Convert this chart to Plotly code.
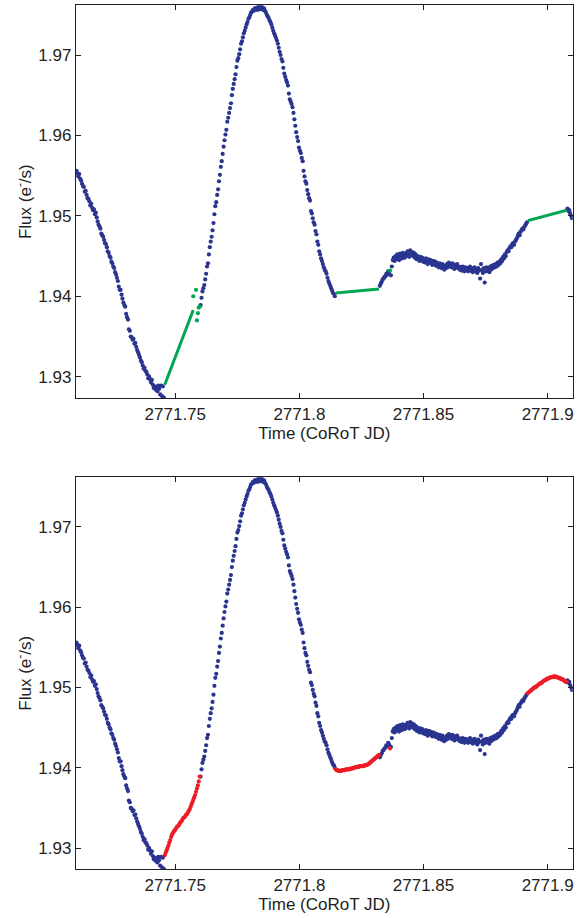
import plotly.graph_objects as go

# CoRoT light curve, 32 s cadence
T_START = 2771.7102
CADENCE = 32.0 / 86400.0

# good photometry: first cadence index and fluxes (e-/s, as plotted)
good_a_start = 0
good_a = [
    1.9556, 1.9553, 1.9549, 1.9552, 1.9546, 1.9544, 1.9540, 1.9537, 1.9536, 1.9530,
    1.9531, 1.9526, 1.9522, 1.9521, 1.9518, 1.9513, 1.9515, 1.9510, 1.9507, 1.9508,
    1.9502, 1.9504, 1.9498, 1.9493, 1.9489, 1.9487, 1.9484, 1.9478, 1.9476, 1.9474,
    1.9470, 1.9466, 1.9465, 1.9461, 1.9456, 1.9454, 1.9450, 1.9448, 1.9443, 1.9441,
    1.9437, 1.9435, 1.9430, 1.9427, 1.9423, 1.9419, 1.9412, 1.9408, 1.9408, 1.9402,
    1.9397, 1.9392, 1.9389, 1.9387, 1.9378, 1.9374, 1.9371, 1.9359, 1.9357, 1.9350,
    1.9349, 1.9346, 1.9347, 1.9341, 1.9342, 1.9337, 1.9333, 1.9330, 1.9327, 1.9324,
    1.9320, 1.9318, 1.9314, 1.9310, 1.9311, 1.9307, 1.9306, 1.9303, 1.9298, 1.9300,
    1.9297, 1.9293, 1.9296, 1.9290, 1.9286, 1.9288, 1.9284, 1.9287, 1.9282, 1.9289,
    1.9285, 1.9278, 1.9289, 1.9276, 1.9288, 1.9274,
]

good_b_start = 135
good_b = [
    1.9389, 1.9398, 1.9406, 1.9410, 1.9414, 1.9421, 1.9428, 1.9437, 1.9441, 1.9452,
    1.9461, 1.9468, 1.9474, 1.9482, 1.9491, 1.9502, 1.9512, 1.9517, 1.9526, 1.9533,
    1.9543, 1.9551, 1.9561, 1.9568, 1.9577, 1.9586, 1.9594, 1.9601, 1.9607, 1.9617,
    1.9622, 1.9628, 1.9634, 1.9640, 1.9650, 1.9658, 1.9664, 1.9670, 1.9676, 1.9685,
    1.9693, 1.9696, 1.9701, 1.9707, 1.9714, 1.9717, 1.9722, 1.9727, 1.9730, 1.9734,
    1.9738, 1.9741, 1.9745, 1.9747, 1.9750, 1.9753, 1.9754, 1.9756, 1.9755, 1.9758,
    1.9757, 1.9759, 1.9756, 1.9760, 1.9758, 1.9757, 1.9761, 1.9759, 1.9756, 1.9758,
    1.9755, 1.9753, 1.9750, 1.9748, 1.9746, 1.9743, 1.9741, 1.9738, 1.9734, 1.9730,
    1.9727, 1.9724, 1.9721, 1.9718, 1.9714, 1.9709, 1.9704, 1.9700, 1.9695, 1.9692,
    1.9684, 1.9677, 1.9673, 1.9669, 1.9666, 1.9662, 1.9652, 1.9645, 1.9642, 1.9639,
    1.9635, 1.9628, 1.9620, 1.9612, 1.9604, 1.9598, 1.9593, 1.9585, 1.9581, 1.9578,
    1.9572, 1.9568, 1.9556, 1.9549, 1.9543, 1.9540, 1.9532, 1.9527, 1.9522, 1.9519,
    1.9506, 1.9503, 1.9497, 1.9492, 1.9489, 1.9481, 1.9477, 1.9468, 1.9464, 1.9456,
    1.9452, 1.9447, 1.9444, 1.9440, 1.9436, 1.9433, 1.9431, 1.9428, 1.9423, 1.9419,
    1.9416, 1.9413, 1.9410, 1.9407, 1.9404, 1.9403, 1.9400,
]

good_c_start = 330
good_c = [
    1.9413, 1.9416, 1.9418, 1.9421, 1.9422, 1.9424, 1.9425, 1.9428, 1.9427, 1.9431,
    1.9429,
]

good_d_start = 342
good_d = [
    1.9426, 1.9437, 1.9445, 1.9448, 1.9444, 1.9450, 1.9446, 1.9452, 1.9449, 1.9445,
    1.9453, 1.9450, 1.9447, 1.9454, 1.9451, 1.9448, 1.9453, 1.9450, 1.9456, 1.9452,
    1.9449, 1.9457, 1.9453, 1.9455, 1.9450, 1.9454, 1.9448, 1.9452, 1.9446, 1.9450,
    1.9447, 1.9444, 1.9449, 1.9445, 1.9448, 1.9443, 1.9446, 1.9442, 1.9447, 1.9444,
    1.9440, 1.9446, 1.9442, 1.9445, 1.9441, 1.9439, 1.9444, 1.9440, 1.9443, 1.9438,
    1.9442, 1.9440, 1.9436, 1.9441, 1.9439, 1.9435, 1.9440, 1.9437, 1.9433, 1.9438,
    1.9435, 1.9440, 1.9436, 1.9442, 1.9438, 1.9440, 1.9436, 1.9441, 1.9438, 1.9434,
    1.9439, 1.9436, 1.9440, 1.9435, 1.9437, 1.9433, 1.9436, 1.9432, 1.9437, 1.9434,
    1.9431, 1.9436, 1.9433, 1.9435, 1.9431, 1.9434, 1.9437, 1.9432, 1.9435, 1.9430,
    1.9434, 1.9436, 1.9431, 1.9433, 1.9429, 1.9435, 1.9432, 1.9422, 1.9440, 1.9433,
    1.9429, 1.9435, 1.9417, 1.9431, 1.9436, 1.9432, 1.9434, 1.9430, 1.9437, 1.9433,
    1.9438, 1.9435, 1.9439, 1.9436, 1.9440, 1.9437, 1.9442, 1.9439, 1.9443, 1.9441,
    1.9446, 1.9444, 1.9449, 1.9447, 1.9452, 1.9450, 1.9455, 1.9457, 1.9456, 1.9460,
    1.9462, 1.9461, 1.9465, 1.9466, 1.9464, 1.9468, 1.9470, 1.9472, 1.9475, 1.9478,
    1.9476, 1.9480, 1.9482, 1.9484, 1.9483, 1.9486, 1.9488, 1.9490, 1.9492,
]

good_e_start = 534
good_e = [1.9509, 1.9506, 1.9507, 1.9503, 1.9500, 1.9497]

# flagged photometry (shown in green on the upper panel)
flag_idx = [127, 130, 131, 132, 133, 134, 341]
flag_flux = [1.9400, 1.9408, 1.9370, 1.9379, 1.9386, 1.9387, 1.9432]

# straight-line bridges across the gaps: cadence index pairs and end fluxes
bridge_idx = [(96, 127), (282, 329), (491, 533)]
bridge_flux = [(1.9290, 1.9383), (1.9404, 1.9409), (1.9494, 1.9507)]

# reconstructed fluxes filling the gaps (lower panel, red)
fill_a_start = 96
fill_a = [
    1.9291, 1.9294, 1.9297, 1.9300, 1.9303, 1.9307, 1.9310, 1.9314, 1.9317, 1.9319,
    1.9321, 1.9322, 1.9324, 1.9326, 1.9327, 1.9328, 1.9330, 1.9332, 1.9333, 1.9335,
    1.9337, 1.9338, 1.9339, 1.9341, 1.9342, 1.9344, 1.9346, 1.9348, 1.9351, 1.9354,
    1.9357, 1.9360, 1.9363, 1.9366, 1.9370, 1.9374, 1.9378, 1.9383, 1.9389,
]
fill_b_start = 282
fill_b = [
    1.9398, 1.9397, 1.9397, 1.9396, 1.9396, 1.9396, 1.9396, 1.9397, 1.9397, 1.9397,
    1.9397, 1.9398, 1.9398, 1.9398, 1.9398, 1.9398, 1.9399, 1.9399, 1.9399, 1.9400,
    1.9400, 1.9400, 1.9401, 1.9401, 1.9401, 1.9401, 1.9402, 1.9402, 1.9402, 1.9402,
    1.9402, 1.9403, 1.9403, 1.9403, 1.9404, 1.9404, 1.9405, 1.9406, 1.9407, 1.9408,
    1.9409, 1.9410, 1.9411, 1.9412, 1.9413, 1.9414, 1.9415, 1.9416,
]
fill_c_start = 341
fill_c = [1.9424]
fill_d_start = 491
fill_d = [
    1.9493, 1.9494, 1.9495, 1.9496, 1.9497, 1.9498, 1.9499, 1.9500, 1.9500, 1.9501,
    1.9502, 1.9503, 1.9504, 1.9505, 1.9505, 1.9506, 1.9507, 1.9508, 1.9509, 1.9509,
    1.9510, 1.9511, 1.9511, 1.9512, 1.9512, 1.9513, 1.9513, 1.9513, 1.9514, 1.9513,
    1.9514, 1.9513, 1.9513, 1.9512, 1.9512, 1.9511, 1.9511, 1.9510, 1.9510, 1.9509,
    1.9508, 1.9507, 1.9507,
]

X_TICKS = [2771.75, 2771.8, 2771.85, 2771.9]
X_TICK_TEXT = ["2771.75", "2771.8", "2771.85", "2771.9"]
Y_TICKS = [1.93, 1.94, 1.95, 1.96, 1.97]
Y_TICK_TEXT = ["1.93", "1.94", "1.95", "1.96", "1.97"]
X_RANGE = [2771.71, 2771.9101]
Y_RANGE = [1.92735, 1.97618]

BLUE = "#2a3590"
GREEN = "#00a651"
RED = "#ee1c25"
INK = "#231f20"
FONT = "Liberation Sans, Arial, Helvetica, sans-serif"


def cad_time(i):
    return T_START + CADENCE * i


def run_xy(start, values):
    return [cad_time(start + k) for k in range(len(values))], list(values)


def concat_runs(runs):
    xs, ys = [], []
    for start, vals in runs:
        x, y = run_xy(start, vals)
        xs += x
        ys += y
    return xs, ys


good_runs = [(good_a_start, good_a), (good_b_start, good_b), (good_c_start, good_c),
             (good_d_start, good_d), (good_e_start, good_e)]
fill_runs = [(fill_a_start, fill_a), (fill_b_start, fill_b), (fill_c_start, fill_c),
             (fill_d_start, fill_d)]

good_t, good_f = concat_runs(good_runs)
fill_t, fill_f = concat_runs(fill_runs)
flag_t = [cad_time(i) for i in flag_idx]

bridge_t, bridge_f = [], []
for (i0, i1), (f0, f1) in zip(bridge_idx, bridge_flux):
    bridge_t += [cad_time(i0), cad_time(i1), None]
    bridge_f += [f0, f1, None]

dot = dict(size=4.2, line=dict(width=0))

fig = go.Figure()
# upper panel: raw data with linear bridges
fig.add_trace(go.Scatter(x=good_t, y=good_f, mode="markers",
                         marker=dict(color=BLUE, **dot), xaxis="x", yaxis="y"))
fig.add_trace(go.Scatter(x=bridge_t, y=bridge_f, mode="lines",
                         line=dict(color=GREEN, width=3), xaxis="x", yaxis="y"))
fig.add_trace(go.Scatter(x=flag_t, y=flag_flux, mode="markers",
                         marker=dict(color=GREEN, **dot), xaxis="x", yaxis="y"))
# lower panel: raw data with reconstructed gaps
fig.add_trace(go.Scatter(x=good_t, y=good_f, mode="markers",
                         marker=dict(color=BLUE, **dot), xaxis="x2", yaxis="y2"))
fig.add_trace(go.Scatter(x=fill_t, y=fill_f, mode="markers",
                         marker=dict(color=RED, **dot), xaxis="x2", yaxis="y2"))

W, H = 588, 918
x_dom = [76 / W, 572.7 / W]
top_dom = [1 - 398 / H, 1 - 5.3 / H]
bot_dom = [1 - 869.3 / H, 1 - 477.3 / H]

tickfont = dict(family=FONT, size=17, color=INK)
titlefont = dict(family=FONT, size=17, color=INK)

xax = dict(range=X_RANGE, tickmode="array", tickvals=X_TICKS, ticktext=X_TICK_TEXT,
           ticks="inside", ticklen=5, tickwidth=1, tickcolor=INK,
           showline=True, linecolor=INK, linewidth=1.3, mirror="ticks",
           showgrid=False, zeroline=False, tickfont=tickfont,
           title=dict(text="Time (CoRoT JD)", font=titlefont, standoff=1))
yax = dict(range=Y_RANGE, tickmode="array", tickvals=Y_TICKS, ticktext=Y_TICK_TEXT,
           ticks="inside", ticklen=5, tickwidth=1, tickcolor=INK,
           showline=True, linecolor=INK, linewidth=1.3, mirror="ticks",
           showgrid=False, zeroline=False, tickfont=tickfont,
           title=dict(text="Flux (e<sup>-</sup>/s)", font=titlefont, standoff=2))

fig.update_layout(
    width=W, height=H,
    margin=dict(l=0, r=0, t=0, b=0),
    paper_bgcolor="white", plot_bgcolor="white",
    showlegend=False,
    xaxis=dict(domain=x_dom, anchor="y", **xax),
    yaxis=dict(domain=top_dom, anchor="x", **yax),
    xaxis2=dict(domain=x_dom, anchor="y2", **xax),
    yaxis2=dict(domain=bot_dom, anchor="x2", **yax),
)

fig.write_html("out.html")
